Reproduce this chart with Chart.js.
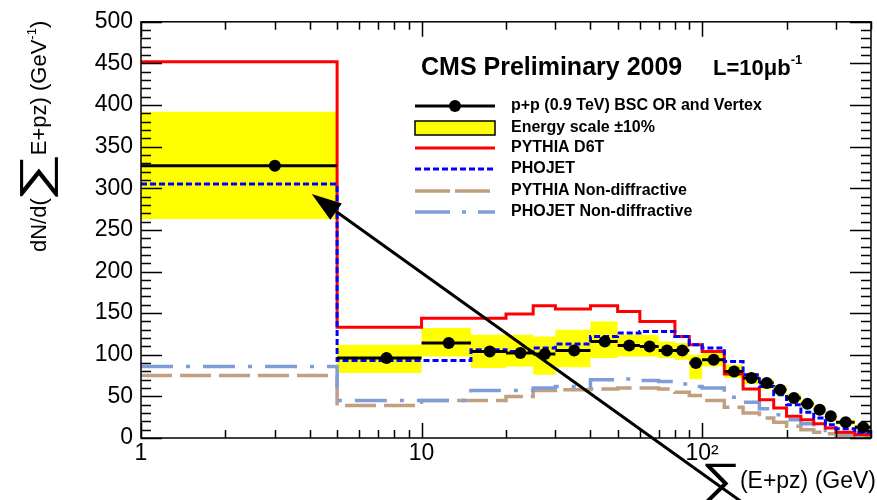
<!DOCTYPE html>
<html>
<head>
<meta charset="utf-8">
<script src="https://cdn.jsdelivr.net/npm/chart.js@4.4.0/dist/chart.umd.min.js"></script>
<style>
  body { margin: 0; background: #fff; }
  #wrap { width: 877px; height: 500px; }
</style>
</head>
<body>
<div id="wrap"><canvas id="myChart"></canvas></div>
<script>
// bin edges in GeV, one value per bin below
const binEdges = [1, 5, 10, 15, 20, 25, 30, 40, 50, 60, 70, 80, 90, 100, 120, 140, 160, 180, 200, 225, 250, 275, 300, 350, 400];
const dataValues = [327, 96, 114, 104, 102, 101, 105, 116, 111, 110, 105, 105, 90, 94, 80, 72, 66, 58, 48, 41, 34, 26, 19, 13];
const scaleLow  = [263, 78, 98, 84, 86, 76, 85, 96, 98, 98, 96, 94, 71, 86, 72, 65, 59, 52, 44, 37, 30, 23, 16, 10];
const scaleHigh = [392, 112, 132, 124, 124, 122, 130, 140, 124, 124, 116, 114, 100, 104, 88, 78, 71, 63, 53, 45, 38, 30, 22, 16];
const pythiaD6T = [452, 133, 144, 144, 149, 159, 155, 159, 152, 140, 140, 122, 112, 104, 77, 59, 46, 36, 26, 22, 17, 12, 7, 4];
const phojet    = [305, 93, 93, 106, 104, 108, 113, 122, 126, 128, 128, 122, 112, 108, 92, 76, 62, 52, 40, 31, 24, 16, 11, 7];
const pythiaND  = [75, 39, 45, 45, 50, 57, 58, 59, 60, 60, 59, 55, 51, 45, 37, 30, 24, 19, 14, 10, 7, 5, 3, 2];
const phojetND  = [86, 45, 45, 57, 57, 60, 62, 70, 71, 69, 68, 65, 62, 60, 49, 43, 35, 28, 22, 17, 12, 9, 6, 4];

const xTickValues = [1, 10, 100];
const xTickLabels = ['1', '10', '10\u00b2'];
const yMax = 500;

// arrow in data coordinates (GeV, counts)
const arrowTail = {x: 154, y: -88};
const arrowTip = {x: 4.06, y: 293};

const FONT = '"Liberation Sans", Arial, Helvetica, sans-serif';
const RED = '#ff0000', BLUE = '#0000ff', BROWN = '#c0a080', LIGHTBLUE = '#7f9ed8', YELLOW = '#ffff00';

// step histogram: one point per lower edge plus the closing edge
function histo(values) {
  const pts = values.map((v, i) => ({x: binEdges[i], y: v}));
  pts.push({x: binEdges[values.length], y: values[values.length - 1]});
  return pts;
}

// horizontal bin-width bars, broken between bins
function binBars(values) {
  const pts = [];
  values.forEach((v, i) => {
    pts.push({x: binEdges[i], y: v}, {x: binEdges[i + 1], y: v}, {x: binEdges[i + 1], y: null});
  });
  return pts;
}

const centers = dataValues.map((v, i) => ({x: (binEdges[i] + binEdges[i + 1]) / 2, y: v}));

const stepLine = (label, values, color, dash, width, order) => ({
  label: label,
  data: histo(values),
  stepped: 'before',
  borderColor: color,
  borderWidth: width,
  borderDash: dash,
  borderCapStyle: 'butt',
  pointRadius: 0,
  fill: false,
  order: order
});

// big summation sign stretched into a box (left, top, width, height)
function sigma(ctx, left, top, w, h) {
  ctx.save();
  ctx.font = '100px ' + FONT;
  ctx.textAlign = 'left';
  ctx.textBaseline = 'alphabetic';
  const m = ctx.measureText('\u2211');
  const bw = m.actualBoundingBoxLeft + m.actualBoundingBoxRight;
  const bh = m.actualBoundingBoxAscent + m.actualBoundingBoxDescent;
  ctx.translate(left, top);
  ctx.scale(w / bw, h / bh);
  ctx.fillText('\u2211', m.actualBoundingBoxLeft, m.actualBoundingBoxAscent);
  ctx.restore();
}

// axes frame, ROOT-style inner ticks, titles, legend and arrow
const decorations = {
  id: 'decorations',
  afterDatasetsDraw(chart) {
    const {ctx, chartArea: a, scales: {x, y}} = chart;
    ctx.save();
    ctx.strokeStyle = '#000';
    ctx.lineWidth = 1.5;
    ctx.strokeRect(a.left, a.top, a.right - a.left, a.bottom - a.top);
    ctx.beginPath();
    for (let v = 0; v <= yMax; v += 10) {
      const len = v % 50 === 0 ? 21 : 10;
      const py = Math.round(y.getPixelForValue(v)) + 0.5;
      ctx.moveTo(a.left, py); ctx.lineTo(a.left + len, py);
      ctx.moveTo(a.right, py); ctx.lineTo(a.right - len, py);
    }
    for (const d of xTickValues) {
      for (let k = 1; k <= 9; k++) {
        const v = k * d;
        if (v > x.max) break;
        const len = k === 1 ? 15 : 8;
        const px = Math.round(x.getPixelForValue(v)) + 0.5;
        ctx.moveTo(px, a.bottom); ctx.lineTo(px, a.bottom - len);
        ctx.moveTo(px, a.top); ctx.lineTo(px, a.top + len);
      }
    }
    ctx.stroke();
    ctx.restore();
  },
  afterDraw(chart) {
    const {ctx, chartArea: a, scales: {x, y}} = chart;
    ctx.save();
    ctx.fillStyle = '#000';

    // y axis title, rotated
    ctx.save();
    ctx.translate(46, 252);
    ctx.rotate(-Math.PI / 2);
    let px = 0;
    const part = (t, size, dy) => {
      ctx.font = size + 'px ' + FONT;
      ctx.fillText(t, px, dy || 0);
      px += ctx.measureText(t).width;
    };
    ctx.textBaseline = 'alphabetic';
    part('dN/d(', 22);
    sigma(ctx, px + 1, -26, 40, 38);
    px += 43;
    part('E+pz) (GeV', 22);
    part('-1', 13, -10);
    part(')', 22);
    ctx.restore();

    // x axis title
    ctx.textBaseline = 'alphabetic';
    ctx.textAlign = 'right';
    ctx.font = '23px ' + FONT;
    ctx.fillText('(E+pz) (GeV)', 876, 488);
    const tw = ctx.measureText('(E+pz) (GeV)').width;
    sigma(ctx, 876 - tw - 35, 464, 33, 40);

    // header
    ctx.textAlign = 'left';
    ctx.font = 'bold 25px ' + FONT;
    ctx.fillText('CMS Preliminary 2009', 421, 75);
    ctx.font = 'bold 22px ' + FONT;
    ctx.fillText('L=10\u03bcb', 713, 75);
    const lw = ctx.measureText('L=10\u03bcb').width;
    ctx.font = 'bold 13px ' + FONT;
    ctx.fillText('-1', 713 + lw, 64);

    // legend
    const x0 = 415, x1 = 495, tx = 511;
    const rows = [106, 128, 148, 169, 191, 212];
    const texts = ['p+p (0.9 TeV) BSC OR and Vertex', 'Energy scale \u00b110%', 'PYTHIA D6T', 'PHOJET',
      'PYTHIA Non-diffractive', 'PHOJET Non-diffractive'];
    ctx.font = 'bold 16px ' + FONT;
    ctx.textBaseline = 'middle';
    texts.forEach((t, i) => ctx.fillText(t, tx, rows[i]));

    const seg = (yy, color, dash, width) => {
      ctx.beginPath();
      ctx.strokeStyle = color;
      ctx.lineWidth = width;
      ctx.setLineDash(dash);
      ctx.moveTo(x0, yy); ctx.lineTo(x1, yy);
      ctx.stroke();
      ctx.setLineDash([]);
    };
    seg(rows[0], '#000', [], 3);
    ctx.beginPath();
    ctx.arc((x0 + x1) / 2, rows[0], 6, 0, Math.PI * 2);
    ctx.fill();
    ctx.fillStyle = YELLOW;
    ctx.fillRect(x0, rows[1] - 7, x1 - x0, 14);
    ctx.strokeStyle = '#000';
    ctx.lineWidth = 1.5;
    ctx.strokeRect(x0, rows[1] - 7, x1 - x0, 14);
    seg(rows[2], RED, [], 3);
    seg(rows[3], BLUE, [6, 3], 3);
    seg(rows[4], BROWN, [35, 5], 3.5);
    seg(rows[5], LIGHTBLUE, [35, 12, 4, 12], 3.5);

    // arrow
    const tx0 = x.getPixelForValue(arrowTail.x), ty0 = y.getPixelForValue(arrowTail.y);
    const tx1 = x.getPixelForValue(arrowTip.x), ty1 = y.getPixelForValue(arrowTip.y);
    const ang = Math.atan2(ty1 - ty0, tx1 - tx0);
    const head = 30, half = 10;
    const bx = tx1 - head * Math.cos(ang), by = ty1 - head * Math.sin(ang);
    ctx.strokeStyle = '#000';
    ctx.fillStyle = '#000';
    ctx.lineWidth = 3;
    ctx.beginPath();
    ctx.moveTo(tx0, ty0);
    ctx.lineTo(bx, by);
    ctx.stroke();
    ctx.beginPath();
    ctx.moveTo(tx1, ty1);
    ctx.lineTo(bx + half * Math.sin(ang), by - half * Math.cos(ang));
    ctx.lineTo(bx - half * Math.sin(ang), by + half * Math.cos(ang));
    ctx.closePath();
    ctx.fill();
    ctx.restore();
  }
};

var ctx = document.getElementById('myChart').getContext('2d');
var chart = new Chart(ctx, {
  type: 'line',
  data: {
    datasets: [
      {
        label: 'p+p (0.9 TeV) BSC OR and Vertex',
        data: centers,
        showLine: false,
        pointRadius: 6,
        pointBackgroundColor: '#000',
        pointBorderWidth: 0,
        order: 0
      },
      {
        label: 'bin width',
        data: binBars(dataValues),
        borderColor: '#000',
        borderWidth: 3,
        pointRadius: 0,
        spanGaps: false,
        order: 1
      },
      stepLine('PHOJET', phojet, BLUE, [6, 3], 3, 2),
      stepLine('PYTHIA D6T', pythiaD6T, RED, [], 3, 3),
      stepLine('PHOJET Non-diffractive', phojetND, LIGHTBLUE, [32, 13, 4, 13], 3.5, 4),
      stepLine('PYTHIA Non-diffractive', pythiaND, BROWN, [31, 8], 3.5, 5),
      {
        label: 'Energy scale +10%',
        data: histo(scaleHigh),
        stepped: 'before',
        borderWidth: 0,
        borderColor: 'rgba(0,0,0,0)',
        backgroundColor: YELLOW,
        pointRadius: 0,
        fill: '+1',
        order: 6
      },
      {
        label: 'Energy scale -10%',
        data: histo(scaleLow),
        stepped: 'before',
        borderWidth: 0,
        borderColor: 'rgba(0,0,0,0)',
        pointRadius: 0,
        fill: false,
        order: 7
      }
    ]
  },
  options: {
    responsive: true,
    maintainAspectRatio: false,
    animation: false,
    devicePixelRatio: 1,
    layout: { padding: { left: 0, right: 1, top: 16, bottom: 0 } },
    plugins: {
      legend: { display: false },
      tooltip: { enabled: false }
    },
    scales: {
      x: {
        type: 'logarithmic',
        min: 1,
        max: 400,
        grid: { display: false, drawTicks: false },
        border: { display: false },
        ticks: {
          color: '#000',
          font: { family: FONT, size: 23 },
          padding: 2,
          maxRotation: 0,
          autoSkip: false,
          callback: (v) => xTickLabels[xTickValues.indexOf(v)]
        },
        afterBuildTicks: (s) => { s.ticks = xTickValues.map(v => ({value: v})); },
        afterFit: (s) => { s.height = 62; }
      },
      y: {
        type: 'linear',
        min: 0,
        max: yMax,
        grid: { display: false, drawTicks: false },
        border: { display: false },
        ticks: {
          color: '#000',
          font: { family: FONT, size: 23 },
          stepSize: 50,
          padding: 8
        },
        afterFit: (s) => { s.width = 141; }
      }
    }
  },
  plugins: [decorations]
});
</script>
</body>
</html>
